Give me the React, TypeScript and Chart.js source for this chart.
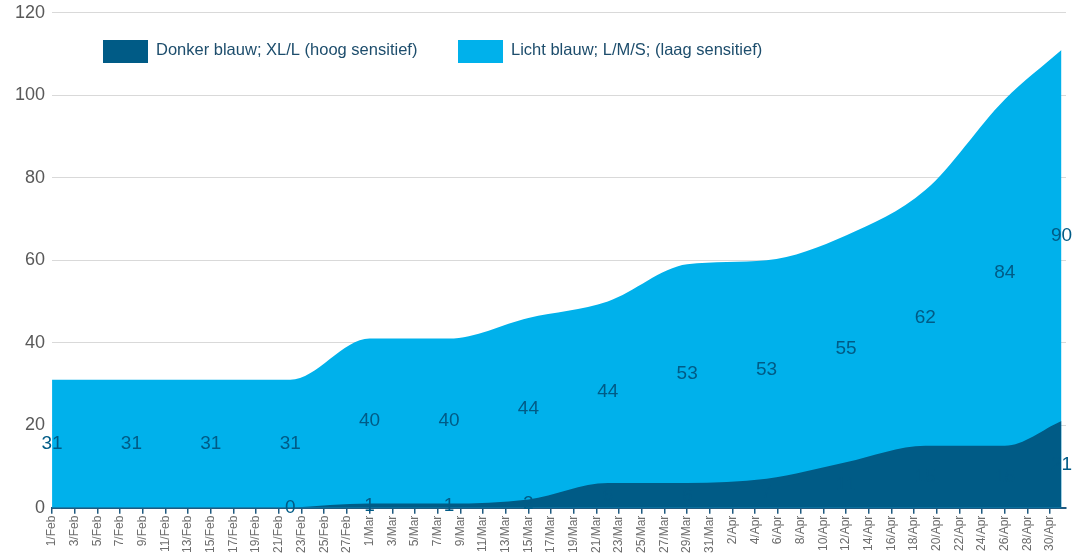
import React, { useEffect, useRef } from "react";
import { Chart, registerables } from "chart.js";

Chart.register(...registerables);

// Day index counted from 1/Feb (0) for each weekly data point
const dayIndex = [0, 7, 14, 21, 28, 35, 42, 49, 56, 63, 70, 77, 84, 89];
const lightValues = [31, 31, 31, 31, 40, 40, 44, 44, 53, 53, 55, 62, 84, 90];
const darkValues: (number | null)[] = [null, null, null, 0, 1, 1, 2, 6, 6, 7, 11, 15, 15, 21];

const seriesNames = [
  "Donker blauw; XL/L (hoog sensitief)",
  "Licht blauw; L/M/S; (laag sensitief)",
];

const tickLabels = [
  "1/Feb", "3/Feb", "5/Feb", "7/Feb", "9/Feb", "11/Feb", "13/Feb", "15/Feb", "17/Feb",
  "19/Feb", "21/Feb", "23/Feb", "25/Feb", "27/Feb",
  "1/Mar", "3/Mar", "5/Mar", "7/Mar", "9/Mar", "11/Mar", "13/Mar", "15/Mar", "17/Mar",
  "19/Mar", "21/Mar", "23/Mar", "25/Mar", "27/Mar", "29/Mar", "31/Mar",
  "2/Apr", "4/Apr", "6/Apr", "8/Apr", "10/Apr", "12/Apr", "14/Apr", "16/Apr", "18/Apr",
  "20/Apr", "22/Apr", "24/Apr", "26/Apr", "28/Apr", "30/Apr",
];

const DARK = "#005b86";
const LIGHT = "#00b1eb";
const LABEL = "#005b86";
const FONT = "'Liberation Sans', Arial, sans-serif";
const SHIFT = 5;

const valueLabelsPlugin = {
  id: "valueLabels",
  afterDatasetsDraw(chart: any) {
    const { ctx, scales } = chart;
    const xs = scales.x;
    const ys = scales.y;
    ctx.save();
    ctx.font = `19px ${FONT}`;
    ctx.fillStyle = LABEL;
    ctx.textAlign = "center";
    ctx.textBaseline = "middle";
    dayIndex.forEach((d, i) => {
      const x = xs.getPixelForValue(d);
      const dv = darkValues[i];
      const base = dv ?? 0;
      if (dv !== null) {
        ctx.fillText(String(dv), x, ys.getPixelForValue(dv / 2));
      }
      const lv = lightValues[i];
      ctx.fillText(String(lv), x, ys.getPixelForValue(base + lv / 2));
    });
    ctx.restore();
  },
};

const legendPlugin = {
  id: "customLegend",
  afterDraw(chart: any) {
    const { ctx } = chart;
    const items = [
      { x: 103, color: DARK, text: seriesNames[0] },
      { x: 458, color: LIGHT, text: seriesNames[1] },
    ];
    ctx.save();
    ctx.font = `16.5px ${FONT}`;
    ctx.textBaseline = "middle";
    ctx.textAlign = "left";
    items.forEach((it) => {
      ctx.fillStyle = it.color;
      ctx.fillRect(it.x, 40 + SHIFT, 45, 23);
      ctx.fillStyle = "#1d4d6c";
      ctx.fillText(it.text, it.x + 53, 50 + SHIFT);
    });
    ctx.restore();
  },
};

export default function App() {
  const ref = useRef<HTMLCanvasElement>(null);
  useEffect(() => {
    if (!ref.current) return;
    const chart = new Chart(ref.current, {
      type: "line",
      data: {
        datasets: [
          {
            label: seriesNames[0],
            data: dayIndex.map((d, i) => ({ x: d, y: darkValues[i] })) as any,
            backgroundColor: DARK,
            borderColor: DARK,
            borderWidth: 0,
            pointRadius: 0,
            fill: "origin",
            cubicInterpolationMode: "monotone",
          },
          {
            label: seriesNames[1],
            data: dayIndex.map((d, i) => ({ x: d, y: lightValues[i] })),
            backgroundColor: LIGHT,
            borderColor: LIGHT,
            borderWidth: 0,
            pointRadius: 0,
            fill: "origin",
            cubicInterpolationMode: "monotone",
          },
        ],
      },
      options: {
        animation: false,
        responsive: true,
        maintainAspectRatio: false,
        layout: { padding: { left: 8, top: -2, right: 8, bottom: 2 } },
        plugins: { legend: { display: false }, tooltip: { enabled: false } },
        scales: {
          x: {
            type: "linear",
            min: 0,
            max: 89.4,
            afterBuildTicks: (scale: any) => {
              scale.ticks = tickLabels.map((_, i) => ({ value: i * 2 }));
            },
            ticks: {
              autoSkip: false,
              maxRotation: 90,
              minRotation: 90,
              color: "#6d6d6d",
              font: { size: 12, family: FONT },
              padding: 2,
              callback: (v: any) => tickLabels[Math.round(Number(v) / 2)] ?? "",
            },
            grid: {
              drawOnChartArea: false,
              drawTicks: true,
              tickLength: 6,
              color: "#1f5a80",
              lineWidth: 1.5,
            },
            border: { color: "#1f5a80", width: 2 },
          },
          y: {
            stacked: true,
            min: 0,
            max: 120,
            ticks: {
              stepSize: 20,
              color: "#595959",
              font: { size: 18, family: FONT },
              padding: 7,
            },
            grid: { color: "#d9d9d9", drawTicks: false },
            border: { display: false },
          },
        },
      },
      plugins: [valueLabelsPlugin, legendPlugin],
    });
    return () => chart.destroy();
  }, []);
  return (
    <div style={{ position: "absolute", left: 0, top: -SHIFT, width: 1074, height: 557 + SHIFT }}>
      <canvas ref={ref} />
    </div>
  );
}
